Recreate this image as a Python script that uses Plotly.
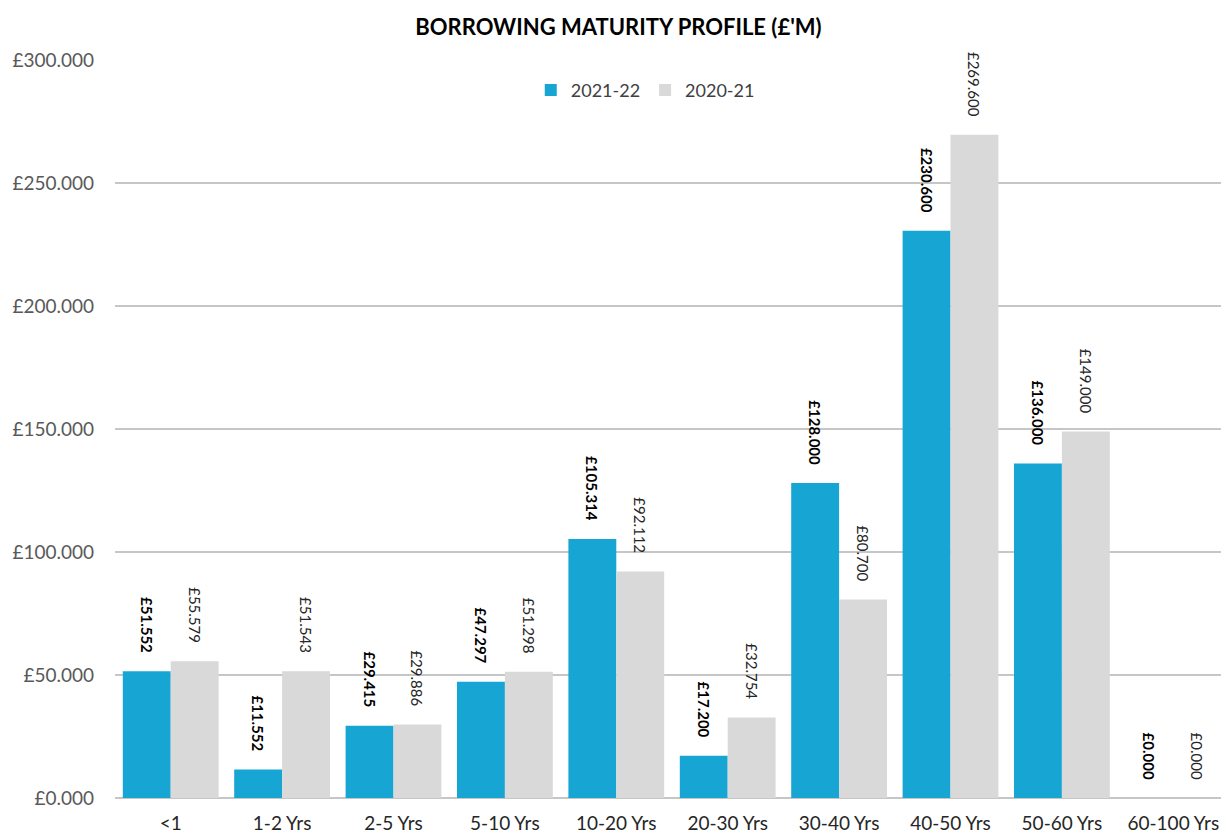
import plotly.graph_objects as go

# Perfil de vencimento dos empréstimos
categorias = ['<1', '1-2 Yrs', '2-5 Yrs', '5-10 Yrs', '10-20 Yrs', '20-30 Yrs',
              '30-40 Yrs', '40-50 Yrs', '50-60 Yrs', '60-100 Yrs']
valores_2122 = [51.552, 11.552, 29.415, 47.297, 105.314, 17.200, 128.000, 230.600, 136.000, 0.000]
valores_2021 = [55.579, 51.543, 29.886, 51.298, 92.112, 32.754, 80.700, 269.600, 149.000, 0.000]
ticks_y = [0, 50, 100, 150, 200, 250, 300]

FONTE = 'Lato'
PAD = '\u00a0' * 4  # espaço entre rótulo e barra

fig = go.Figure()
fig.add_trace(go.Bar(
    x=categorias, y=valores_2122, name='2021-22',
    marker=dict(color='#17A6D3', line=dict(width=0)),
    texttemplate='<b>£%{y:.3f}</b>' + PAD,
    textposition='outside', textangle=90, cliponaxis=False, constraintext='none',
    textfont=dict(family=FONTE, size=15, color='#000000'),
))
fig.add_trace(go.Bar(
    x=categorias, y=valores_2021, name='2020-21',
    marker=dict(color='#D9D9D9', line=dict(width=0)),
    texttemplate='£%{y:.3f}' + PAD,
    textposition='outside', textangle=90, cliponaxis=False, constraintext='none',
    textfont=dict(family=FONTE, size=15, color='#262626'),
))

# a página tem margem de 8px, por isso a figura é um pouco menor
fig.update_layout(
    width=1221, height=828,
    margin=dict(l=107, r=0, t=52, b=38, autoexpand=False),
    paper_bgcolor='white', plot_bgcolor='white',
    barmode='group', bargap=0.14, bargroupgap=0,
    font=dict(family=FONTE, size=16, color='#404040'),
    title=dict(text="<b>BORROWING MATURITY PROFILE (£'M)</b>", x=0.5, xanchor='center',
               y=0.977, yanchor='middle', font=dict(family=FONTE, size=22, color='#000000')),
    legend=dict(orientation='h', x=0.476, xanchor='center', y=0.959, yanchor='middle',
                font=dict(size=18, color='#404040'), bgcolor='rgba(0,0,0,0)'),
)
fig.update_yaxes(range=[0, 300], tickvals=ticks_y,
                 ticktext=['£' + f'{v:.3f}' for v in ticks_y],
                 showgrid=True, gridcolor='#C6C6C6', gridwidth=2,
                 zeroline=True, zerolinecolor='#C6C6C6', zerolinewidth=2,
                 ticks='', ticklen=0, ticklabelstandoff=20,
                 tickfont=dict(size=19, color='#595959'))
fig.update_xaxes(showline=False, ticks='', ticklabelstandoff=12,
                 tickfont=dict(size=19, color='#262626'))

fig.write_html('out.html')
